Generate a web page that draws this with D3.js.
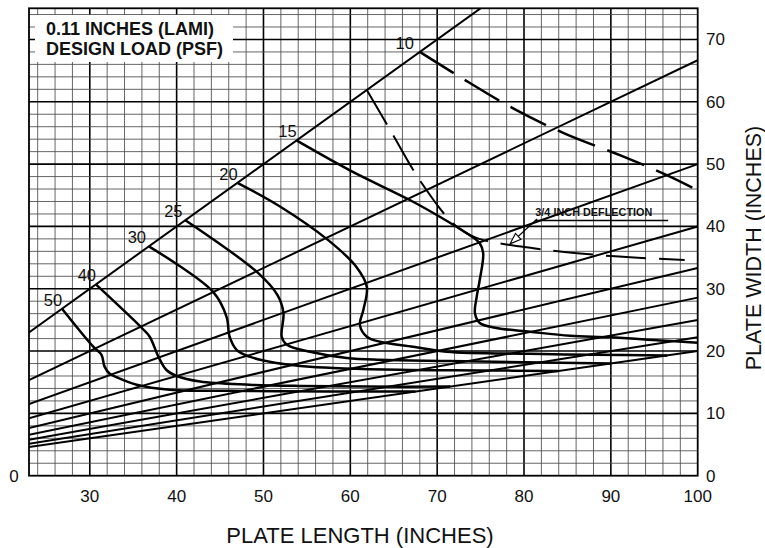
<!DOCTYPE html>
<html>
<head>
<meta charset="utf-8">
<script src="https://cdn.jsdelivr.net/npm/d3@7"></script>
<style>
  html, body { margin: 0; padding: 0; background: #fff; }
  svg { display: block; font-family: "Liberation Sans", Arial, Helvetica, sans-serif; }
</style>
</head>
<body>
<svg id="chart" width="765" height="548"></svg>
<script>
// ---------- DATA ----------
const xTicks = [30, 40, 50, 60, 70, 80, 90, 100];
const yTicks = [0, 10, 20, 30, 40, 50, 60, 70];
const aspectRatios = [1, 1.5, 2, 2.5, 3, 3.5, 4, 4.5, 5];

const loadLabels = ["50", "40", "30", "25", "20", "15", "10"];
const load50 = [[26.8,26.8],[30.4,20.7],[31.35,19.4],[31.7,17.5],[32.3,16.35],[33.1,15.8],[35.4,14.6],[39.2,13.8],[48.4,13.6],[57.6,13.5],[67.5,13.5]];
const load40 = [[30.7,30.7],[36.0,23.7],[36.9,22.3],[37.9,19.1],[38.8,17.0],[40.0,16.0],[42.7,15.1],[48.4,14.6],[54.2,14.4],[62,14.3],[71.5,14.3]];
const load30 = [[36.8,36.8],[44.2,29.5],[45.75,25.5],[46.1,22.3],[46.9,20.2],[48.4,19.1],[51.5,18.1],[55.35,17.5],[65.7,17.0],[75,16.9],[84,16.8]];
const load25 = [[41,41],[49.4,32.5],[51.6,29.0],[52.3,26.1],[52.1,22.3],[52.7,21.0],[55.35,19.9],[59.6,18.9],[63.4,18.6],[71.5,18.4],[80,18.2],[90,18]];
const load20 = [[47,47],[51.9,43.2],[57.45,37.8],[60.7,33.5],[61.9,30.3],[61.5,26.6],[61.1,24.2],[61.9,22.3],[63.4,21.5],[67.25,20.7],[71.1,19.9],[80.7,19.55],[88,19.4],[96.5,19.3]];
const load15 = [[53.8,53.8],[59.95,49.0],[66.9,44.2],[70.3,41.55],[73.4,38.9],[74.9,37.3],[75.3,35.7],[74.9,31.4],[74.55,28.7],[74.35,26.1],[74.9,24.5],[76.85,23.7],[80.7,23.1],[85.3,22.45],[89.9,22.2],[95.7,21.7],[100,21.35]];
const load10 = [[68,68],[72.6,64.0],[78.8,58.9],[84.7,54.9],[91.1,51.4],[96.5,48.2],[100,45.8]];
const deflection34 = [[61.9,61.9],[64.6,55.45],[68.0,47.4],[71.8,40.5],[73.8,38.6],[75.3,37.8],[81.1,36.5],[86.1,35.7],[92.2,35.05],[98.5,34.6]];

const titleLines = ["0.11 INCHES (LAMI)", "DESIGN LOAD (PSF)"];
const deflectionLabel = "3/4 INCH DEFLECTION";
const xTitle = "PLATE LENGTH (INCHES)";
const yTitle = "PLATE WIDTH (INCHES)";

// ---------- LAYOUT ----------
const svg = d3.select("#chart");
const x = d3.scaleLinear().domain([23, 100]).range([29, 697.7]);
const y = d3.scaleLinear().domain([0, 75]).range([475.7, 8.3]);

svg.append("defs").append("clipPath").attr("id", "plotclip")
  .append("rect").attr("x", x(23)).attr("y", y(75))
  .attr("width", x(100) - x(23)).attr("height", y(0) - y(75));

// grid
const grid = svg.append("g");
const minorX = d3.range(24, 100, 2);
const minorY = d3.range(2, 75, 2);
grid.selectAll(".vx").data(minorX).join("line")
  .attr("x1", d => x(d)).attr("x2", d => x(d)).attr("y1", y(0)).attr("y2", y(75))
  .attr("stroke", d => d % 10 === 0 ? "#000" : "#4a4a4a")
  .attr("stroke-width", d => d % 10 === 0 ? 1.6 : 0.85);
grid.selectAll(".hy").data(minorY).join("line")
  .attr("y1", d => y(d)).attr("y2", d => y(d)).attr("x1", x(23)).attr("x2", x(100))
  .attr("stroke", d => d % 10 === 0 ? "#000" : "#4a4a4a")
  .attr("stroke-width", d => d % 10 === 0 ? 1.6 : 0.85);

// title box (hides grid)
svg.append("rect").attr("x", 35).attr("y", 15).attr("width", 198).attr("height", 47).attr("fill", "#fff");
svg.append("g").selectAll("text").data(titleLines).join("text")
  .attr("x", 46).attr("y", (d, i) => 35 + i * 20)
  .attr("font-size", 18).attr("font-weight", "bold").attr("fill", "#111")
  .text(d => d);

// border
svg.append("rect").attr("x", x(23)).attr("y", y(75))
  .attr("width", x(100) - x(23)).attr("height", y(0) - y(75))
  .attr("fill", "none").attr("stroke", "#000").attr("stroke-width", 1.8);

const plot = svg.append("g").attr("clip-path", "url(#plotclip)");

// aspect ratio lines
plot.selectAll(".ar").data(aspectRatios).join("line")
  .attr("x1", x(23)).attr("y1", r => y(23 / r))
  .attr("x2", x(100)).attr("y2", r => y(100 / r))
  .attr("stroke", "#000").attr("stroke-width", 2);

const line = d3.line().x(d => x(d[0])).y(d => y(d[1])).curve(d3.curveCatmullRom.alpha(0.5));
const solidCurves = [load50, load40, load30, load25, load20, load15];
plot.selectAll(".lc").data(solidCurves).join("path")
  .attr("d", line).attr("fill", "none").attr("stroke", "#000").attr("stroke-width", 2.5)
  .attr("stroke-linejoin", "round");
plot.append("path").attr("d", line(load10)).attr("fill", "none")
  .attr("stroke", "#000").attr("stroke-width", 2.5).attr("stroke-dasharray", "40,13");
plot.append("path").attr("d", line(deflection34)).attr("fill", "none")
  .attr("stroke", "#000").attr("stroke-width", 2).attr("stroke-dasharray", "40,13");

// load labels
const allLoads = [load50, load40, load30, load25, load20, load15, load10];
const labelDx = [-9, -9, -12, -12, -9, -9, -15];
svg.append("g").selectAll("text").data(allLoads).join("text")
  .attr("x", (d, i) => x(d[0][0]) + labelDx[i]).attr("y", d => y(d[0][1]) - 3)
  .attr("text-anchor", "middle").attr("font-size", 16.5).attr("fill", "#111")
  .text((d, i) => loadLabels[i]);

// deflection annotation
const ann = svg.append("g");
const ax = x(81.3), ay = y(41.6);
ann.append("text").attr("x", ax).attr("y", ay)
  .attr("font-size", 10.8).attr("font-weight", "bold").attr("fill", "#111")
  .attr("textLength", 117).text(deflectionLabel);
ann.append("line").attr("x1", ax).attr("x2", x(96.6)).attr("y1", ay + 4).attr("y2", ay + 4)
  .attr("stroke", "#000").attr("stroke-width", 1.5);
const a0 = [x(81.5), y(41.2)], a1 = [x(78.4), y(37.2)];
ann.append("line").attr("x1", a0[0]).attr("y1", a0[1]).attr("x2", a1[0]).attr("y2", a1[1])
  .attr("stroke", "#000").attr("stroke-width", 1.2);
{
  const ang = Math.atan2(a1[1] - a0[1], a1[0] - a0[0]);
  const L = 11, W = 4;
  const bx = a1[0] - L * Math.cos(ang), by = a1[1] - L * Math.sin(ang);
  const px = -Math.sin(ang) * W, py = Math.cos(ang) * W;
  ann.append("path").attr("d", `M${a1[0]},${a1[1]}L${bx + px},${by + py}L${bx - px},${by - py}Z`)
    .attr("fill", "#fff").attr("stroke", "#000").attr("stroke-width", 1.1);
}

// axes tick labels
svg.append("g").selectAll("text").data(xTicks).join("text")
  .attr("x", d => x(d)).attr("y", 502).attr("text-anchor", "middle")
  .attr("font-size", 17).attr("fill", "#111").text(d => d);
svg.append("g").selectAll("text").data(yTicks).join("text")
  .attr("x", 706).attr("y", d => y(d) + 6).attr("text-anchor", "start")
  .attr("font-size", 17).attr("fill", "#111").text(d => d);
svg.append("text").attr("x", 14).attr("y", y(0) + 6).attr("text-anchor", "middle")
  .attr("font-size", 17).attr("fill", "#111").text(yTicks[0]);

// axis titles
svg.append("text").attr("x", 360).attr("y", 543).attr("text-anchor", "middle")
  .attr("font-size", 22).attr("fill", "#111").text(xTitle);
svg.append("text").attr("transform", "translate(761,248) rotate(-90)").attr("text-anchor", "middle")
  .attr("font-size", 21.5).attr("fill", "#111").text(yTitle);
</script>
</body>
</html>
